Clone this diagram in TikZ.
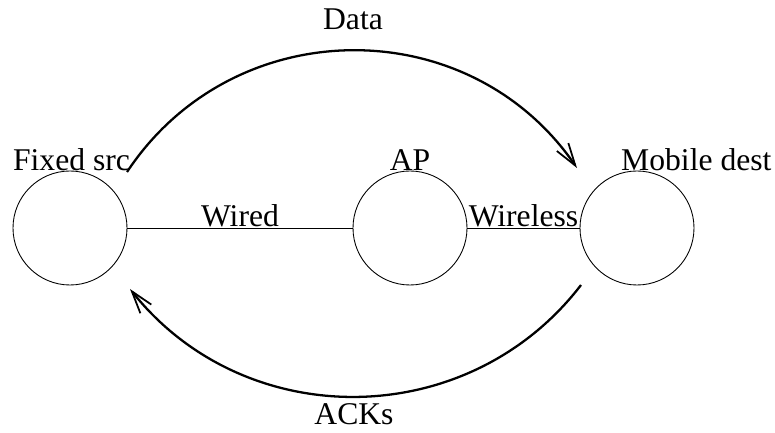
\documentclass[tikz,border=0pt]{standalone}
\usepackage{fontspec}
\setmainfont{Liberation Serif}
\usetikzlibrary{arrows.meta}

\begin{document}
\begin{tikzpicture}[font=\fontsize{18}{21}\selectfont,
  station/.style={draw, circle, minimum size=2.28cm, inner sep=0pt, line width=0.5pt},
  flow/.style={line width=1.3pt, -{Straight Barb[length=0.45cm,width=0.28cm,line width=1pt]}}]
\useasboundingbox (0,0) rectangle (15.5,8.66);

\node[station] (src) at (1.40,4.10) {};
\node[station] (ap)  at (8.20,4.10) {};
\node[station] (dst) at (12.74,4.10) {};

\node[anchor=base] (srclbl) at (1.43,5.24) {Fixed src};
\node[anchor=base] (aplbl)  at (8.20,5.24) {AP};
\node[anchor=base west] (dstlbl) at (12.30,5.24) {Mobile dest};

\draw[line width=0.5pt] (src) -- node[anchor=base, inner sep=0pt, yshift=1pt] (wired) {Wired} (ap);
\draw[line width=0.5pt] (ap) -- node[anchor=base, inner sep=0pt, yshift=1pt] (wireless) {Wireless} (dst);

\coordinate (dataS) at (2.54,5.22);
\coordinate (dataE) at (11.54,5.30);
\coordinate (ackS) at (11.62,2.96);
\coordinate (ackE) at (2.60,2.88);

\draw[flow] (dataS) to[bend left=56, looseness=1.09] (dataE);
\draw[flow] (ackS) to[bend left=52, looseness=1.05] (ackE);

\node[anchor=base] (data) at (7.06,8.06) {Data};
\node[anchor=base] (acks) at (7.08,0.16) {ACKs};
\end{tikzpicture}
\end{document}
